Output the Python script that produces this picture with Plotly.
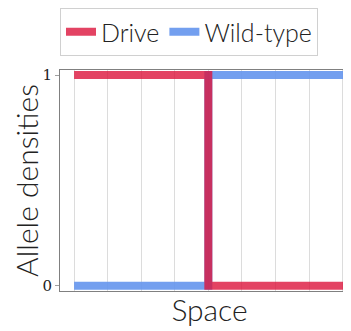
import plotly.graph_objects as go

# step profile of allele densities across space
space = [-4, 0, 0, 4.5]
drive = [1, 1, 0, 0]
wild_type = [0, 0, 1, 1]
y_ticks = [0, 1]

font_sans = "Lato Light, Lato"
fig = go.Figure()
fig.add_trace(go.Scatter(x=space, y=wild_type, mode="lines", name="Wild-type",
                         line=dict(color="rgba(100,149,237,0.9)", width=8)))
fig.add_trace(go.Scatter(x=space, y=drive, mode="lines", name="Drive",
                         line=dict(color="rgba(220,20,60,0.8)", width=8)))

fig.update_layout(
    width=351, height=331,
    margin=dict(l=52, r=0, t=62, b=48, autoexpand=False),
    plot_bgcolor="white", paper_bgcolor="white",
    font=dict(family=font_sans, size=24, color="#222", weight=300),
    legend=dict(orientation="h", traceorder="reversed",
                x=0, xanchor="left", xref="paper",
                y=1, yanchor="top", yref="container",
                bgcolor="white", bordercolor="#d0d0d0", borderwidth=1,
                font=dict(size=25, weight=300), itemwidth=30),
    xaxis=dict(range=[-4.42, 4.49], dtick=1, tick0=0, showticklabels=False,
               showgrid=True, gridcolor="#dcdcdc", gridwidth=1, zeroline=False,
               showline=True, linecolor="#808080", linewidth=1, mirror=True,
               automargin=False,
               title=dict(text="Space", font=dict(size=30, weight=300), standoff=8)),
    yaxis=dict(range=[-0.025, 1.024], tickvals=y_ticks, showgrid=False, zeroline=False,
               showline=True, linecolor="#808080", linewidth=1,
               ticks="outside", ticklen=4, tickcolor="#a0a0a0", automargin=False,
               tickfont=dict(family="DejaVu Serif", size=15, color="#222"),
               title=dict(text="Allele densities", font=dict(size=30, weight=300), standoff=5)),
)
fig.write_html("out.html")
